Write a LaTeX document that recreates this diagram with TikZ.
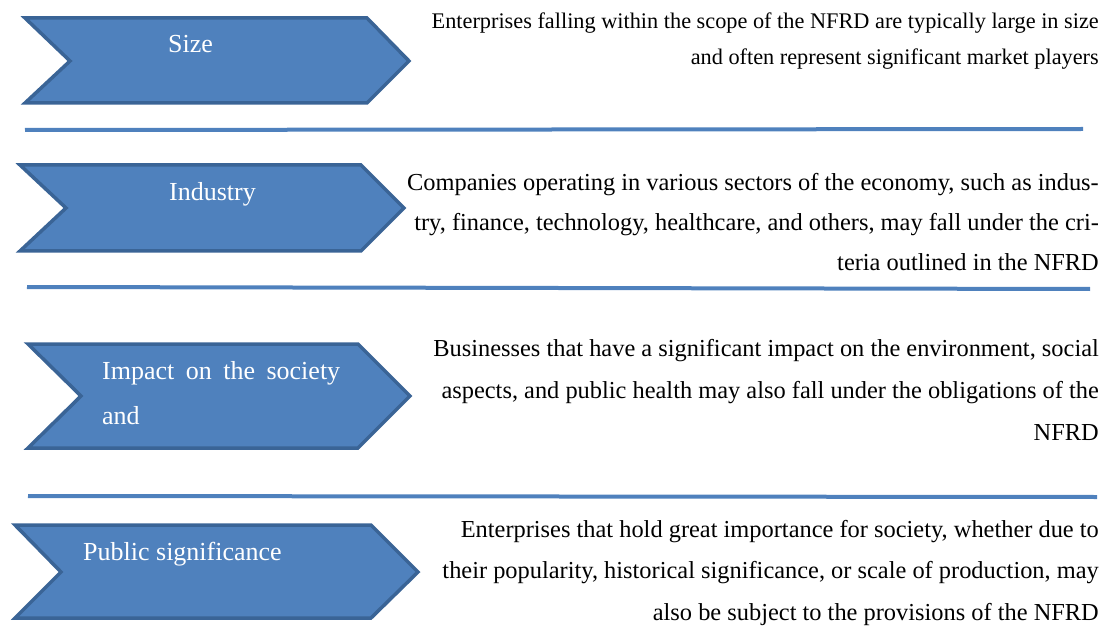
\documentclass[tikz,border=0pt]{standalone}
\usepackage{fontspec}
\setmainfont{Liberation Serif}
\usetikzlibrary{positioning}
\definecolor{chevfill}{HTML}{4F81BD}
\definecolor{chevline}{HTML}{3A6496}
\definecolor{rulecol}{HTML}{4F81BD}
\tikzset{chev/.style = {draw=chevline, fill=chevfill, line width=3.5pt, line join=miter},
         rule/.style = {draw=rulecol, line width=4pt},
         tag/.style  = {text=white, inner sep=0pt, anchor=base west, align=left,
                        font=\fontsize{26}{45}\selectfont},
         desc/.style = {inner sep=0pt, anchor=base east, align=right,
                        font=\fontsize{24.4}{41.5}\selectfont}}

\begin{document}
\begin{tikzpicture}[x=1pt, y=-1pt]
    \useasboundingbox (0,0) rectangle (1105,628);

    % chevrons
    \draw[chev] (25,18)  -- (367,18)  -- (409,61)  -- (367,103) -- (25,103) -- (70,61)  -- cycle;
    \draw[chev] (20,165) -- (361,165) -- (404,208) -- (361,251) -- (20,251) -- (66,208) -- cycle;
    \draw[chev] (28,344) -- (358,344) -- (410,396) -- (358,448) -- (28,448) -- (81,396) -- cycle;
    \draw[chev] (15,525) -- (371,525) -- (418,572) -- (371,618) -- (15,618) -- (61,572) -- cycle;

    % labels (base anchor sits on the last line)
    \node[tag] (size) at (168,53)  {Size};
    \node[tag] (ind)  at (169,201) {Industry};
    \node[tag] (imp)  at (102,424) {\makebox[238pt][s]{Impact on the society}\\and};
    \node[tag] (pub)  at (83,560)  {Public significance};

    % separators
    \draw[rule] (25,130) -- (1083,129);
    \draw[rule] (27,287) -- (1090,289);
    \draw[rule] (28,496) -- (1097,497);

    % descriptions
    \node[desc, font=\fontsize{22.3}{36}\selectfont] (dsize) at (1099,65)
        {Enterprises falling within the scope of the NFRD are typically large in size\\
         and often represent significant market players};
    \node[desc, font=\fontsize{24.4}{40}\selectfont] (dind) at (1099,271)
        {Companies operating in various sectors of the economy, such as indus-\\
         try, finance, technology, healthcare, and others, may fall under the cri-\\
         teria outlined in the NFRD};
    \node[desc, font=\fontsize{24.4}{42}\selectfont] (dimp) at (1099,440)
        {Businesses that have a significant impact on the environment, social\\
         aspects, and public health may also fall under the obligations of the\\
         NFRD};
    \node[desc] (dpub) at (1099,620)
        {Enterprises that hold great importance for society, whether due to\\
         their popularity, historical significance, or scale of production, may\\
         also be subject to the provisions of the NFRD};
\end{tikzpicture}
\end{document}
